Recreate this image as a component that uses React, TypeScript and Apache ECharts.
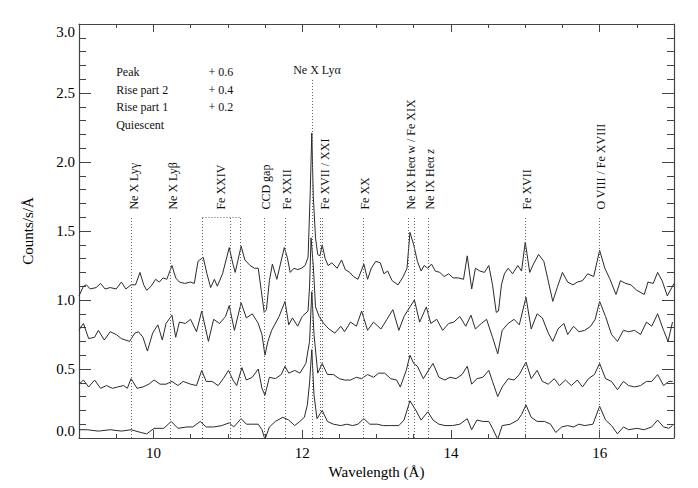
import React, { useEffect, useRef } from "react";
import * as echarts from "echarts";

// Spectra as plotted (wavelength in Å, counts/s/Å including the vertical offset)
const peakSpec: [number, number][] = [
  [9.0, 1.03], [9.06, 1.1], [9.1, 1.11], [9.15, 1.08], [9.23, 1.09], [9.29, 1.12], [9.35, 1.08], [9.42, 1.09],
  [9.5, 1.08], [9.57, 1.13], [9.63, 1.08], [9.7, 1.11], [9.76, 1.11], [9.82, 1.2], [9.87, 1.11], [9.91, 1.07],
  [9.97, 1.1], [10.03, 1.15], [10.08, 1.13], [10.13, 1.16], [10.18, 1.15], [10.25, 1.25], [10.3, 1.16], [10.35, 1.13],
  [10.42, 1.12], [10.5, 1.13], [10.55, 1.12], [10.6, 1.28], [10.67, 1.31], [10.72, 1.19], [10.77, 1.09], [10.82, 1.15],
  [10.86, 1.1], [10.93, 1.19], [11.02, 1.38], [11.07, 1.26], [11.1, 1.2], [11.18, 1.39], [11.23, 1.29], [11.3, 1.25],
  [11.36, 1.23], [11.41, 1.23], [11.45, 1.07], [11.49, 0.91], [11.52, 0.93], [11.56, 1.14], [11.6, 1.26], [11.66, 1.15],
  [11.76, 1.38], [11.8, 1.31], [11.84, 1.2], [11.89, 1.23], [11.94, 1.22], [11.99, 1.23], [12.04, 1.25], [12.08, 1.31],
  [12.11, 1.8], [12.13, 2.21], [12.15, 1.75], [12.18, 1.45], [12.21, 1.33], [12.24, 1.32], [12.27, 1.4], [12.31, 1.3],
  [12.35, 1.25], [12.4, 1.27], [12.47, 1.23], [12.53, 1.29], [12.58, 1.22], [12.64, 1.2], [12.69, 1.17], [12.75, 1.15],
  [12.83, 1.26], [12.88, 1.15], [12.93, 1.23], [12.99, 1.28], [13.05, 1.27], [13.1, 1.19], [13.15, 1.21], [13.21, 1.14],
  [13.29, 1.11], [13.36, 1.17], [13.41, 1.23], [13.45, 1.49], [13.5, 1.4], [13.55, 1.28], [13.6, 1.21], [13.64, 1.25],
  [13.69, 1.23], [13.74, 1.26], [13.79, 1.21], [13.85, 1.2], [13.91, 1.17], [13.97, 1.19], [14.03, 1.16], [14.1, 1.16],
  [14.17, 1.15], [14.22, 1.32], [14.28, 1.08], [14.33, 1.23], [14.39, 1.21], [14.45, 1.2], [14.51, 1.25], [14.56, 1.11],
  [14.61, 0.91], [14.64, 0.92], [14.68, 1.11], [14.72, 1.19], [14.77, 1.23], [14.83, 1.19], [14.9, 1.25], [14.95, 1.21],
  [15.0, 1.42], [15.06, 1.2], [15.11, 1.26], [15.18, 1.33], [15.25, 1.28], [15.3, 1.16], [15.37, 0.99], [15.43, 1.09],
  [15.5, 1.2], [15.57, 1.13], [15.64, 1.11], [15.7, 1.13], [15.77, 1.14], [15.84, 1.19], [15.92, 1.17], [16.0, 1.36],
  [16.07, 1.23], [16.14, 1.15], [16.22, 1.04], [16.28, 1.14], [16.35, 1.12], [16.42, 1.11], [16.5, 1.07], [16.6, 1.04],
  [16.65, 1.13], [16.72, 1.12], [16.78, 1.2], [16.84, 1.14], [16.91, 1.03], [16.97, 1.09], [17.0, 1.12],
];

const rise2Spec: [number, number][] = [
  [9.0, 0.78], [9.02, 0.8], [9.06, 0.83], [9.13, 0.72], [9.21, 0.73], [9.26, 0.78], [9.34, 0.71], [9.42, 0.77],
  [9.5, 0.75], [9.57, 0.72], [9.68, 0.7], [9.75, 0.76], [9.8, 0.77], [9.86, 0.73], [9.92, 0.63], [9.99, 0.76],
  [10.06, 0.82], [10.12, 0.71], [10.17, 0.83], [10.25, 0.89], [10.3, 0.73], [10.35, 0.84], [10.43, 0.83], [10.5, 0.86],
  [10.58, 0.77], [10.65, 0.92], [10.74, 0.7], [10.81, 0.86], [10.89, 0.83], [10.97, 0.88], [11.02, 0.96], [11.09, 0.78],
  [11.18, 0.98], [11.25, 0.87], [11.33, 0.9], [11.41, 0.83], [11.46, 0.75], [11.5, 0.6], [11.54, 0.7], [11.59, 0.78],
  [11.69, 0.88], [11.77, 0.99], [11.82, 0.82], [11.87, 0.87], [11.94, 0.81], [12.0, 0.88], [12.08, 0.92], [12.1, 1.1],
  [12.12, 1.45], [12.15, 1.25], [12.18, 0.95], [12.23, 0.88], [12.29, 0.83], [12.36, 0.79], [12.44, 0.76], [12.52, 0.81],
  [12.57, 0.77], [12.65, 0.84], [12.73, 0.81], [12.8, 0.92], [12.88, 0.78], [12.96, 0.84], [13.06, 0.79], [13.14, 0.86],
  [13.22, 0.93], [13.3, 0.78], [13.37, 0.88], [13.45, 0.95], [13.51, 1.0], [13.58, 0.84], [13.67, 0.95], [13.73, 0.83],
  [13.81, 0.86], [13.89, 0.78], [13.97, 0.83], [14.04, 0.84], [14.12, 0.88], [14.2, 0.81], [14.27, 0.89], [14.33, 0.79],
  [14.41, 0.83], [14.48, 0.86], [14.56, 0.73], [14.63, 0.61], [14.69, 0.78], [14.77, 0.83], [14.85, 0.86], [14.92, 0.82],
  [15.01, 1.02], [15.08, 0.79], [15.16, 0.9], [15.23, 0.87], [15.31, 0.76], [15.37, 0.7], [15.44, 0.79], [15.52, 0.83],
  [15.57, 0.75], [15.65, 0.81], [15.72, 0.77], [15.8, 0.78], [15.88, 0.81], [15.94, 0.86], [16.0, 0.99], [16.08, 0.88],
  [16.16, 0.75], [16.24, 0.7], [16.32, 0.78], [16.39, 0.77], [16.47, 0.78], [16.55, 0.75], [16.63, 0.84], [16.7, 0.81],
  [16.78, 0.9], [16.86, 0.78], [16.92, 0.7], [16.98, 0.84],
];

const rise1Spec: [number, number][] = [
  [9.0, 0.39], [9.06, 0.42], [9.13, 0.37], [9.21, 0.42], [9.29, 0.36], [9.37, 0.38], [9.45, 0.36], [9.52, 0.37],
  [9.6, 0.38], [9.65, 0.36], [9.7, 0.43], [9.78, 0.36], [9.86, 0.37], [9.94, 0.39], [10.01, 0.42], [10.09, 0.39],
  [10.17, 0.39], [10.25, 0.41], [10.33, 0.38], [10.4, 0.41], [10.5, 0.39], [10.58, 0.38], [10.65, 0.49], [10.71, 0.41],
  [10.79, 0.41], [10.87, 0.38], [10.94, 0.43], [11.01, 0.49], [11.07, 0.42], [11.12, 0.38], [11.19, 0.51], [11.25, 0.42],
  [11.33, 0.44], [11.41, 0.5], [11.46, 0.36], [11.5, 0.31], [11.56, 0.44], [11.64, 0.43], [11.72, 0.46], [11.77, 0.52],
  [11.82, 0.47], [11.9, 0.49], [11.97, 0.47], [12.05, 0.54], [12.1, 0.7], [12.13, 1.06], [12.16, 0.75], [12.21, 0.47],
  [12.27, 0.54], [12.34, 0.46], [12.42, 0.46], [12.5, 0.43], [12.57, 0.42], [12.65, 0.42], [12.73, 0.44], [12.8, 0.43],
  [12.88, 0.46], [12.96, 0.44], [13.03, 0.47], [13.11, 0.47], [13.19, 0.43], [13.27, 0.42], [13.32, 0.37], [13.4, 0.49],
  [13.45, 0.6], [13.5, 0.54], [13.55, 0.52], [13.63, 0.43], [13.71, 0.5], [13.76, 0.54], [13.84, 0.44], [13.92, 0.42],
  [13.99, 0.44], [14.07, 0.43], [14.15, 0.46], [14.22, 0.52], [14.28, 0.39], [14.35, 0.43], [14.43, 0.44], [14.51, 0.49],
  [14.56, 0.41], [14.63, 0.3], [14.69, 0.37], [14.77, 0.43], [14.85, 0.42], [14.92, 0.46], [15.01, 0.55], [15.08, 0.43],
  [15.16, 0.49], [15.23, 0.41], [15.31, 0.39], [15.39, 0.43], [15.46, 0.38], [15.54, 0.42], [15.62, 0.38], [15.7, 0.42],
  [15.77, 0.37], [15.85, 0.43], [15.93, 0.46], [16.0, 0.54], [16.08, 0.43], [16.16, 0.41], [16.24, 0.35], [16.32, 0.41],
  [16.39, 0.38], [16.47, 0.37], [16.55, 0.38], [16.63, 0.41], [16.7, 0.41], [16.78, 0.46], [16.86, 0.38], [16.93, 0.41],
  [16.98, 0.41],
];

const quiescentSpec: [number, number][] = [
  [9.0, 0.06], [9.11, 0.06], [9.26, 0.05], [9.42, 0.06], [9.57, 0.05], [9.7, 0.06], [9.83, 0.04], [9.91, 0.03],
  [10.01, 0.07], [10.14, 0.07], [10.24, 0.12], [10.33, 0.07], [10.45, 0.08], [10.53, 0.08], [10.63, 0.12], [10.71, 0.08],
  [10.81, 0.08], [10.92, 0.09], [11.02, 0.11], [11.08, 0.08], [11.18, 0.14], [11.25, 0.1], [11.33, 0.1], [11.41, 0.1],
  [11.46, 0.06], [11.5, -0.01], [11.56, 0.08], [11.64, 0.12], [11.74, 0.15], [11.82, 0.13], [11.9, 0.09], [11.97, 0.12],
  [12.03, 0.15], [12.07, 0.24], [12.1, 0.4], [12.13, 0.64], [12.16, 0.31], [12.2, 0.14], [12.27, 0.2], [12.34, 0.12],
  [12.42, 0.1], [12.52, 0.09], [12.6, 0.1], [12.68, 0.09], [12.75, 0.1], [12.83, 0.14], [12.91, 0.1], [13.01, 0.1],
  [13.09, 0.09], [13.19, 0.09], [13.3, 0.09], [13.37, 0.13], [13.45, 0.27], [13.53, 0.2], [13.6, 0.13], [13.69, 0.19],
  [13.76, 0.13], [13.84, 0.1], [13.92, 0.09], [14.02, 0.09], [14.12, 0.1], [14.22, 0.14], [14.28, 0.06], [14.35, 0.13],
  [14.43, 0.12], [14.51, 0.12], [14.56, 0.07], [14.63, -0.01], [14.69, 0.09], [14.8, 0.1], [14.9, 0.13], [14.95, 0.17],
  [15.01, 0.24], [15.08, 0.15], [15.16, 0.12], [15.26, 0.12], [15.34, 0.1], [15.41, 0.04], [15.49, 0.08], [15.57, 0.09],
  [15.65, 0.08], [15.72, 0.1], [15.8, 0.09], [15.91, 0.1], [16.0, 0.23], [16.08, 0.13], [16.16, 0.09], [16.24, 0.03],
  [16.32, 0.08], [16.39, 0.06], [16.5, 0.07], [16.6, 0.06], [16.7, 0.08], [16.78, 0.13], [16.86, 0.08], [16.93, 0.07],
  [16.98, 0.09],
];

const seriesNames = ["Peak", "Rise part 2", "Rise part 1", "Quiescent"];
const seriesOffsets = [0.6, 0.4, 0.2, 0];

// Axis ticks
const xLabelValues = [10, 12, 14, 16];
const xMinorValues = [9, 9.5, 10, 10.5, 11, 11.5, 12, 12.5, 13, 13.5, 14, 14.5, 15, 15.5, 16, 16.5, 17];

// Line identifications: dotted marker wavelengths and label position (Å)
const lineIds = [
  { label: "Ne X Lyγ", lines: [9.7], at: 9.733 },
  { label: "Ne X Lyβ", lines: [10.23], at: 10.266 },
  { label: "Fe XXIV", lines: [10.66, 11.03, 11.17], at: 10.915 },
  { label: "CCD gap", lines: [11.49], at: 11.52 },
  { label: "Fe XXII", lines: [11.77], at: 11.79 },
  { label: "Fe XVII / XXI", lines: [12.245, 12.275], at: 12.31 },
  { label: "Fe XX", lines: [12.82], at: 12.85 },
  { label: "Ne IX Heα w / Fe XIX", lines: [13.43, 13.51], at: 13.47 },
  { label: "{n|Ne IX Heα }{i|z}", lines: [13.69], at: 13.72 },
  { label: "Fe XVII", lines: [15.0], at: 15.03 },
  { label: "O VIII / Fe XVIII", lines: [15.995], at: 16.02 },
];
const lyAlpha = { label: "Ne X Lyα", line: 12.13, at: 12.2 };
const feXXIVBox: [number, number] = [10.66, 11.17];

const SERIF = "Liberation Serif, Times New Roman, serif";
const LINE_TOP = 1.6;
const LABEL_BASE = 1.655;

export default function App() {
  const ref = useRef<HTMLDivElement>(null);
  useEffect(() => {
    if (!ref.current) return;
    const chart = echarts.init(ref.current, undefined, { renderer: "svg" });

    const markData: any[] = [];
    lineIds.forEach((l) =>
      l.lines.forEach((w) => markData.push([{ coord: [w, 0] }, { coord: [w, LINE_TOP] }]))
    );
    markData.push([{ coord: [lyAlpha.line, 0] }, { coord: [lyAlpha.line, 2.6] }]);
    markData.push([{ coord: [feXXIVBox[0], LINE_TOP] }, { coord: [feXXIVBox[1], LINE_TOP] }]);

    const specs = [peakSpec, rise2Spec, rise1Spec, quiescentSpec];
    const axisColor = "#444";
    const tickLabel = { fontFamily: SERIF, fontSize: 15, color: "#000" };

    const xBase = {
      type: "value",
      min: 9,
      max: 17,
      interval: 0.5,
      splitLine: { show: false },
      minorSplitLine: { show: false },
    };
    const xShort = (pos: string, extra: any = {}) => ({
      ...xBase,
      position: pos,
      axisLine: { show: true, onZero: false, lineStyle: { color: axisColor, width: 1.2 } },
      axisTick: { show: true, inside: true, length: 4, customValues: xMinorValues, lineStyle: { color: axisColor } },
      axisLabel: { show: false },
      ...extra,
    });
    const xLong = (pos: string) => ({
      ...xBase,
      position: pos,
      axisLine: { show: false, onZero: false },
      axisTick: { show: true, inside: true, length: 8, customValues: xLabelValues, lineStyle: { color: axisColor } },
      axisLabel: { show: false },
    });
    const yCommon = {
      type: "value",
      min: 0,
      max: 3,
      interval: 0.5,
      axisLine: { show: true, onZero: false, lineStyle: { color: axisColor, width: 1.2 } },
      axisTick: { show: true, inside: true, length: 12, lineStyle: { color: axisColor } },
      minorTick: { show: true, splitNumber: 5, length: 7, lineStyle: { color: axisColor } },
      splitLine: { show: false },
      minorSplitLine: { show: false },
    };

    chart.setOption({
      animation: false,
      grid: { left: 79, right: 24, top: 24, bottom: 50, containLabel: false },
      xAxis: [
        xShort("bottom", {
          name: "Wavelength (Å)",
          nameLocation: "middle",
          nameGap: 23,
          nameTextStyle: { fontFamily: SERIF, fontSize: 15, color: "#000" },
          axisLabel: { ...tickLabel, show: true, margin: 7, customValues: xLabelValues },
        }),
        xShort("top"),
        xLong("bottom"),
        xLong("top"),
      ],
      yAxis: [
        {
          ...yCommon,
          position: "left",
          name: "Counts/s/Å",
          nameLocation: "middle",
          nameGap: 44,
          nameTextStyle: { fontFamily: SERIF, fontSize: 15, color: "#000" },
          axisLabel: {
            ...tickLabel,
            margin: 4,
            formatter: (v: number) => v.toFixed(1),
            verticalAlignMinLabel: "bottom",
            verticalAlignMaxLabel: "top",
          },
        },
        { ...yCommon, position: "right", axisLabel: { show: false } },
      ],
      series: specs.map((d, i) => ({
        name: seriesNames[i],
        type: "line",
        xAxisIndex: 0,
        yAxisIndex: 0,
        data: d,
        showSymbol: false,
        symbol: "none",
        clip: true,
        lineStyle: { color: "#2a2a2a", width: 1 },
        ...(i === 3
          ? {
              markLine: {
                silent: true,
                symbol: "none",
                label: { show: false },
                lineStyle: { color: "#666", type: [1, 2], width: 1 },
                data: markData,
              },
            }
          : {}),
      })),
    });

    const px = (x: number, y: number) =>
      chart.convertToPixel({ xAxisIndex: 0, yAxisIndex: 0 }, [x, y]) as number[];
    const graphics: any[] = [];
    const annoFont = { fontFamily: SERIF, fontSize: 12, fill: "#111" };
    lineIds.forEach((l) => {
      const [x, y] = px(l.at, LABEL_BASE);
      graphics.push({
        type: "text",
        x,
        y,
        rotation: Math.PI / 2,
        style: {
          text: l.label,
          ...annoFont,
          align: "left",
          verticalAlign: "middle",
          rich: {
            n: { fontFamily: SERIF, fontSize: 12, fill: "#111" },
            i: { fontFamily: SERIF, fontSize: 12, fill: "#111", fontStyle: "italic" },
          },
        },
      });
    });
    {
      const [x, y] = px(lyAlpha.at, 2.67);
      graphics.push({
        type: "text",
        x,
        y,
        style: { text: lyAlpha.label, ...annoFont, align: "center", verticalAlign: "middle" },
      });
    }
    seriesNames.forEach((n, i) => {
      const [x1, y1] = px(9.5, 2.65 - i * 0.127);
      graphics.push({
        type: "text",
        x: x1,
        y: y1,
        style: { text: n, ...annoFont, align: "left", verticalAlign: "middle" },
      });
      if (seriesOffsets[i] > 0) {
        const [x2] = px(10.74, 0);
        graphics.push({
          type: "text",
          x: x2,
          y: y1,
          style: { text: "+ " + seriesOffsets[i].toFixed(1), ...annoFont, align: "left", verticalAlign: "middle" },
        });
      }
    });
    chart.setOption({ graphic: graphics });

    return () => chart.dispose();
  }, []);

  return (
    <div
      ref={ref}
      style={{ position: "fixed", left: 0, top: 0, width: 698, height: 488, background: "#fff" }}
    />
  );
}
